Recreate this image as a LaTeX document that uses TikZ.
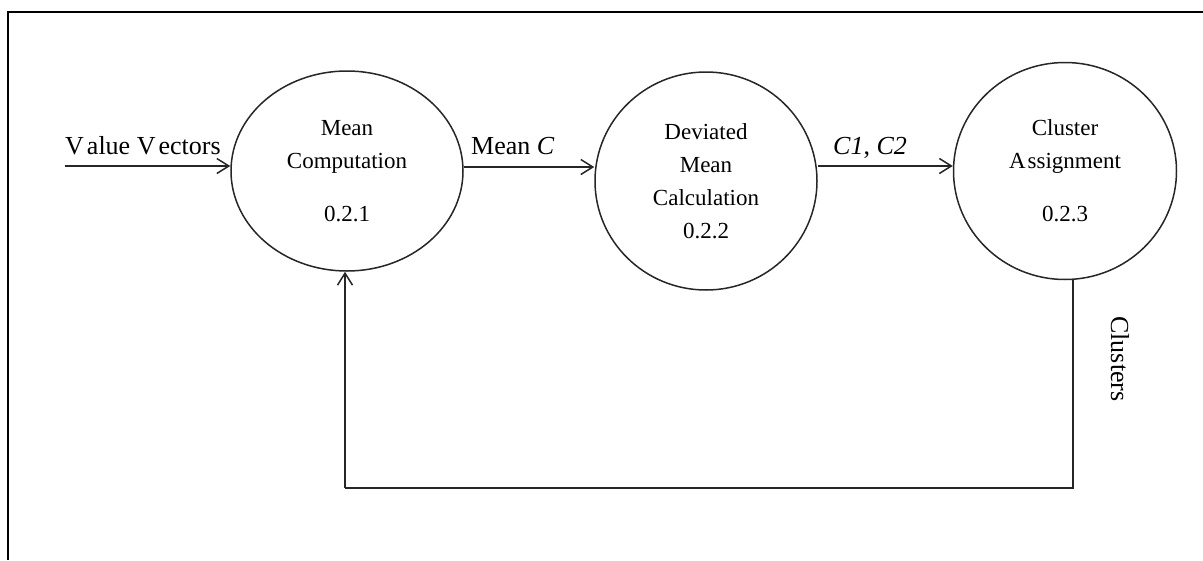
\documentclass[tikz,border=0pt]{standalone}
\usepackage{fontspec}
\setmainfont{Liberation Serif}
\usetikzlibrary{arrows.meta,shapes.geometric}

\begin{document}
\begin{tikzpicture}[x=1pt,y=-1pt,
  process/.style={draw=black!85, line width=1.5pt, ellipse, inner sep=0pt,
    align=center, font=\fontsize{23}{33}\selectfont},
  flow/.style={draw=black!85, line width=1.5pt,
    -{Straight Barb[length=12pt,width=15pt,line width=1.5pt]}},
  plainline/.style={draw=black!85, line width=1.5pt},
  flowlabel/.style={inner sep=0pt, font=\fontsize{26}{30}\selectfont},
  frame/.style={draw=black, line width=2.5pt}
]
\useasboundingbox (0,0) rectangle (1203,560);

% page frame (top and left edges)
\draw[frame] (8,560) -- (8,12) -- (1203,12);

% processes
\node[process, minimum width=232pt, minimum height=200pt] (c1) at (347,171)
  {Mean\\Computation\\[20pt]0.2.1};
\node[process, minimum width=222pt, minimum height=218pt] (c2) at (706,181)
  {Deviated\\Mean\\Calculation\\0.2.2};
\node[process, minimum width=223pt, minimum height=217pt] (c3) at (1065,171)
  {Cluster\\A\kern2pt ssignment\\[20pt]0.2.3};

% flow rows
\coordinate (vin) at (65,166);
\coordinate (rowA) at (0,167);
\coordinate (rowB) at (0,166);

\draw[flow] (vin) -- (vin -| c1.west);
\draw[flow] (c1.east |- rowA) -- (c2.west |- rowA);
\draw[flow] (c2.east |- rowB) -- (c3.west |- rowB);

% feedback loop
\coordinate (fbR) at (1073,488);
\coordinate (fbL) at (345,488);
\draw[plainline] (c3.south -| fbR) -- (fbR) -- (fbL);
\draw[flow] (fbL) -- (fbL |- c1.south);

% flow labels
\node[flowlabel, anchor=base west] (lv) at (65,154) {V\kern3pt alue V\kern3pt ectors};
\node[flowlabel, anchor=base west] (lm) at (471,154) {Mean \textit{C}};
\node[flowlabel, anchor=base west] (lc) at (833,154) {\textit{C1}, \textit{C2}};
\node[flowlabel, rotate=-90] (lk) at (1120,359) {Clusters};
\end{tikzpicture}
\end{document}
